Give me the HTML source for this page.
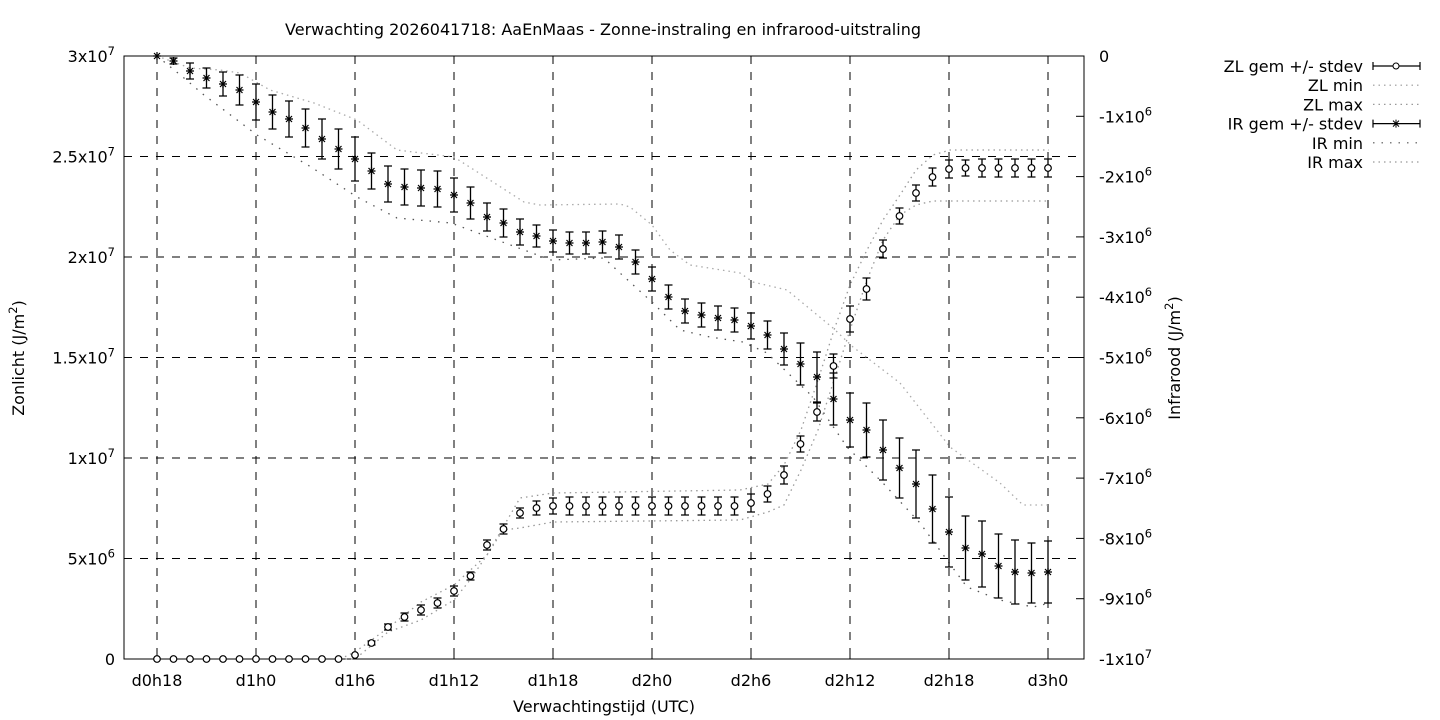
<!DOCTYPE html>
<html><head><meta charset="utf-8"><style>
html,body{margin:0;padding:0;background:#fff;}
svg{display:block;font-family:"DejaVu Sans","Liberation Sans",sans-serif;}
</style></head><body>
<svg id="s" width="1440" height="720" xmlns="http://www.w3.org/2000/svg"></svg>
<script>
const S=document.getElementById('s');let h='';
const L=124,R=1084,T=56,B=659,FS=16,SS=11.5;
function X(i){return 157+16.5*i;}
function sup(b,e){return e?`${b}<tspan font-size="${SS}" dy="-7">${e}</tspan>`:b;}
const xt=['d0h18','d1h0','d1h6','d1h12','d1h18','d2h0','d2h6','d2h12','d2h18','d3h0'];
for(let k=0;k<10;k++){const x=157+99*k;
 h+=`<line x1="${x}" y1="${T}" x2="${x}" y2="${B}" stroke="#000" stroke-dasharray="8,8" stroke-width="1"/>`;
 h+=`<text x="${x}" y="686" font-size="${FS}" text-anchor="middle">${xt[k]}</text>`;}
const ll=[['3x10','7'],['2.5x10','7'],['2x10','7'],['1.5x10','7'],['1x10','7'],['5x10','6'],['0','']];
for(let k=0;k<7;k++){const y=T+(B-T)*k/6;
 if(k>0&&k<6)h+=`<line x1="${L}" y1="${y}" x2="${R}" y2="${y}" stroke="#000" stroke-dasharray="8,8"/>`;
 h+=`<line x1="${L}" y1="${y}" x2="${L+8}" y2="${y}" stroke="#000"/>`;
 h+=`<text x="115" y="${y+6}" font-size="${FS}" text-anchor="end">${sup(ll[k][0],ll[k][1])}</text>`;}
for(let k=0;k<=10;k++){const y=T+(B-T)*k/10;
 h+=`<line x1="${R-8}" y1="${y}" x2="${R}" y2="${y}" stroke="#000"/>`;
 let t=k==0?'0':(k==10?sup('-1x10','7'):sup('-'+k+'x10','6'));
 h+=`<text x="1099" y="${y+6}" font-size="${FS}">${t}</text>`;}
for(let k=0;k<10;k++){const x=157+99*k;h+=`<line x1="${x}" y1="${B}" x2="${x}" y2="${B-8}" stroke="#000"/><line x1="${x}" y1="${T}" x2="${x}" y2="${T+8}" stroke="#000"/>`;}
h+=`<rect x="${L}" y="${T}" width="${R-L}" height="${B-T}" fill="none" stroke="#000"/>`;
h+=`<text x="603" y="35" font-size="${FS}" text-anchor="middle">Verwachting 2026041718: AaEnMaas - Zonne-instraling en infrarood-uitstraling</text>`;
h+=`<text x="604" y="712" font-size="${FS}" text-anchor="middle">Verwachtingstijd (UTC)</text>`;
h+=`<text transform="translate(24,358) rotate(-90)" font-size="${FS}" text-anchor="middle">Zonlicht (J/m<tspan font-size="${SS}" dy="-7">2</tspan><tspan dy="7">)</tspan></text>`;
h+=`<text transform="translate(1180,358) rotate(-90)" font-size="${FS}" text-anchor="middle">Infrarood (J/m<tspan font-size="${SS}" dy="-7">2</tspan><tspan dy="7">)</tspan></text>`;
function poly(pts,st,dash){return `<polyline points="${pts.map(p=>p.join(',')).join(' ')}" fill="none" stroke="${st}" stroke-width="1.3" stroke-dasharray="${dash}"/>`;}
const zmax=[[340,659],[355,652],[388,628],[421,602],[454,585],[487,555],[520,498],[553,493],[740,490],[768,484],[784,465],[801,430],[818,380],[834,330],[850,285],[867,250],[883,220],[900,195],[916,170],[933,155],[950,150],[1049,150]];
const zmin=[[340,659],[355,659],[388,632],[421,620],[454,600],[470,580],[487,555],[503,530],[520,528],[553,522],[740,520],[768,512],[784,505],[801,470],[818,430],[834,380],[850,330],[867,280],[883,240],[900,215],[916,205],[933,201],[1049,201]];
h+=poly(zmax,'#999','1.5,4');h+=poly(zmin,'#999','1.5,4');
const imax=[[157,56],[190,68],[220,70],[240,73],[270,90],[314,103],[357,120],[397,150],[454,157],[524,202],[540,205],[620,204],[630,207],[652,225],[670,250],[690,265],[740,273],[753,282],[787,290],[833,328],[853,347],[900,383],[950,447],[1000,483],[1023,505],[1049,505]];
const imin=[[157,56],[184,78],[204,95],[257,135],[311,167],[357,197],[397,218],[451,223],[524,250],[551,260],[604,258],[620,273],[653,303],[680,330],[710,337],[743,342],[767,353],[813,397],[847,447],[883,483],[920,523],[947,560],[967,587],[1000,600],[1033,607],[1050,603]];
h+=poly(imax,'#aaa','1.5,4');h+=poly(imin,'#555','1.5,7');
const zl=[659,659,659,659,659,659,659,659,659,659,659,659,655,643,627,617,610,603,591,576,545,529,513,508,506,506,506,506,506,506,506,506,506,506,506,506,503,494,475,444,412,366,319,289,249,216,193,177,169,168,168,168,168,168,168];
const ze=[0,0,0,0,0,0,0,0,0,0,0,0,0,2,3,4,5,5,5,4,5,5,5,7,8,9,9,9,9,9,9,9,9,9,9,9,9,8,9,8,9,12,13,11,9,8,8,9,9,8,9,9,9,9,9];
for(let i=0;i<55;i++){const x=X(i),y=zl[i],e=ze[i];
 if(e>0)h+=`<path d="M${x},${y-e}V${y+e}M${x-4},${y-e}H${x+4}M${x-4},${y+e}H${x+4}" stroke="#000" stroke-width="1.3"/>`;
 h+=`<circle cx="${x}" cy="${y}" r="3.3" fill="#fff" stroke="#000" stroke-width="1.2"/>`;}
const ir=[56,61,71,78,84,90,102,112,119,128,139,149,159,171,184,187,188,189,195,203,217,223,232,236,241,243,243,242,247,262,279,297,311,315,318,320,326,335,349,364,377,399,420,430,450,468,484,509,532,548,554,566,572,573,572];
const ie=[0,3,8,10,12,15,18,17,18,19,20,20,22,18,18,18,18,18,17,16,14,14,13,11,11,11,11,11,12,12,12,12,12,12,12,12,13,14,16,21,25,26,27,27,30,30,34,34,35,32,33,32,32,30,31];
for(let i=0;i<55;i++){const x=X(i),y=ir[i],e=ie[i];
 if(e>0)h+=`<path d="M${x},${y-e}V${y+e}M${x-4},${y-e}H${x+4}M${x-4},${y+e}H${x+4}" stroke="#000" stroke-width="1.3"/>`;
 h+=`<path d="M${x-4},${y}H${x+4}M${x},${y-4}V${y+4}M${x-3},${y-3}L${x+3},${y+3}M${x-3},${y+3}L${x+3},${y-3}" stroke="#000" stroke-width="1.2"/>`;}
const lg=['ZL gem +/- stdev','ZL min','ZL max','IR gem +/- stdev','IR min','IR max'];
for(let k=0;k<6;k++){const y=66+19.2*k;
 h+=`<text x="1363" y="${y+6}" font-size="${FS}" text-anchor="end">${lg[k]}</text>`;
 if(k==0||k==3){h+=`<path d="M1373,${y}H1420M1373,${y-4}V${y+4}M1420,${y-4}V${y+4}" stroke="#000" stroke-width="1.2"/>`;
  if(k==0)h+=`<circle cx="1396" cy="${y}" r="3" fill="#fff" stroke="#000"/>`;
  else h+=`<path d="M1392,${y}H1400M1396,${y-4}V${y+4}M1393,${y-3}L1399,${y+3}M1393,${y+3}L1399,${y-3}" stroke="#000"/>`;}
 else h+=`<line x1="1373" y1="${y}" x2="1420" y2="${y}" stroke="${k==4?'#555':'#999'}" stroke-dasharray="${k==4?'1.5,7':'1.5,4'}" stroke-width="1.2"/>`;}
S.innerHTML=h;
</script>
</body></html>
